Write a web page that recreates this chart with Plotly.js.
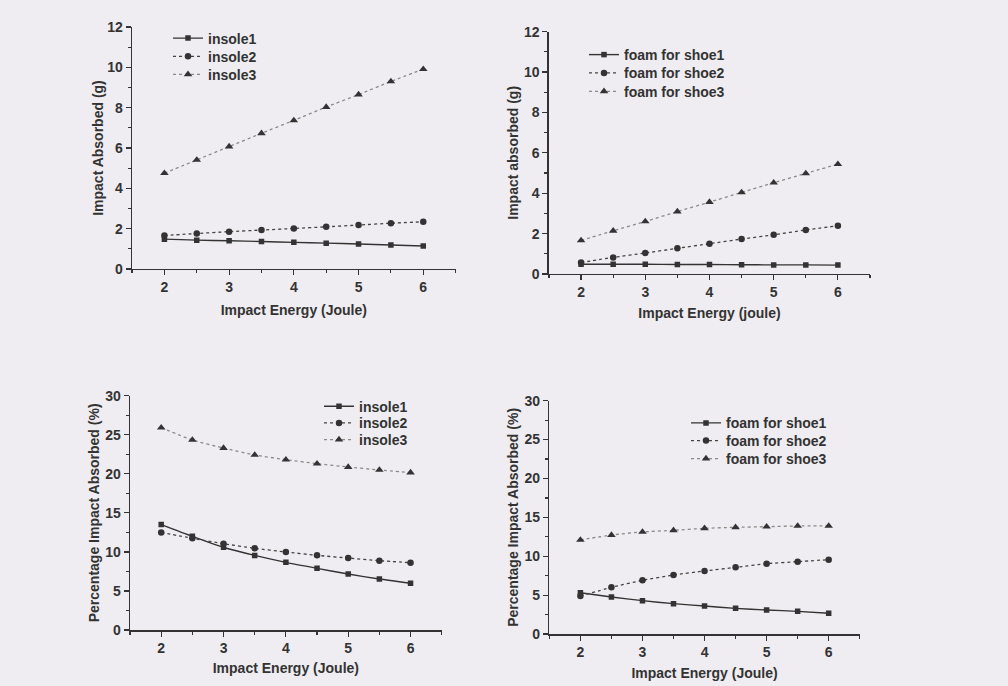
<!DOCTYPE html>
<html>
<head>
<meta charset="utf-8">
<script src="https://cdn.plot.ly/plotly-3.0.1.min.js"></script>
<style>html,body{margin:0;padding:0;background:#efedf1;}#chart{width:1008px;height:686px;}</style>
</head>
<body>
<div id="chart"></div>
<script>
// ---- data ----
const energy = [2, 2.5, 3, 3.5, 4, 4.5, 5, 5.5, 6];

const insoleNames = ["insole1", "insole2", "insole3"];
const foamNames = ["foam for shoe1", "foam for shoe2", "foam for shoe3"];

// Impact absorbed (g)
const insole1Abs = [1.48, 1.43, 1.40, 1.36, 1.32, 1.28, 1.24, 1.19, 1.14];
const insole2Abs = [1.66, 1.76, 1.85, 1.93, 2.01, 2.09, 2.18, 2.27, 2.34];
const insole3Abs = [4.75, 5.41, 6.07, 6.73, 7.37, 8.03, 8.65, 9.30, 9.91];

const foam1Abs = [0.48, 0.48, 0.48, 0.47, 0.47, 0.46, 0.45, 0.45, 0.44];
const foam2Abs = [0.57, 0.82, 1.04, 1.27, 1.50, 1.73, 1.94, 2.18, 2.39];
const foam3Abs = [1.66, 2.14, 2.60, 3.09, 3.56, 4.04, 4.52, 4.98, 5.44];

// Percentage impact absorbed (%)
const insole1Pct = [13.5, 12.0, 10.6, 9.55, 8.66, 7.9, 7.17, 6.53, 5.98];
const insole2Pct = [12.5, 11.74, 11.05, 10.46, 9.99, 9.56, 9.22, 8.88, 8.62];
const insole3Pct = [25.9, 24.33, 23.3, 22.41, 21.81, 21.3, 20.87, 20.49, 20.15];

const foam1Pct = [5.3, 4.76, 4.29, 3.9, 3.6, 3.3, 3.09, 2.91, 2.66];
const foam2Pct = [4.89, 6.0, 6.9, 7.59, 8.1, 8.57, 9.04, 9.3, 9.56];
const foam3Pct = [12.09, 12.73, 13.12, 13.33, 13.59, 13.72, 13.8, 13.89, 13.89];

const xTickVals = [2, 3, 4, 5, 6];

// ---- styles ----
const FONT = "Arial, 'Liberation Sans', sans-serif";
const styles = [
  {line: {color: "#333333", width: 1.4, dash: "solid"}, marker: {symbol: "square", size: 5.5, color: "#333333"}},
  {line: {color: "#444444", width: 1.3, dash: "dot"}, marker: {symbol: "circle", size: 6.5, color: "#333333"}},
  {line: {color: "#8a8a8a", width: 1.3, dash: "dot"}, marker: {symbol: "triangle-up", size: 7.5, color: "#333333"}}
];

let legCount = 0;
const legendLayouts = {};
// one single-entry legend per trace so that row spacing matches the original
function legendFor(xpx, ypx) {
  legCount += 1;
  const id = legCount === 1 ? "legend" : "legend" + legCount;
  legendLayouts[id] = {
    x: xpx / 1008, y: 1 - ypx / 686, xanchor: "left", yanchor: "middle",
    bgcolor: "rgba(0,0,0,0)", borderwidth: 0,
    font: {family: FONT, size: 14, color: "#333", weight: "bold"}, itemwidth: 30
  };
  return id;
}

function series(names, ys, xa, ya, legX, legRows) {
  return ys.map((y, i) => ({
    x: energy, y: y, name: names[i], type: "scatter", mode: "lines+markers",
    xaxis: xa, yaxis: ya, legend: legendFor(legX, legRows[i]),
    line: Object.assign({shape: "spline", smoothing: 0.6}, styles[i].line),
    marker: styles[i].marker
  }));
}

const data = [].concat(
  series(insoleNames, [insole1Abs, insole2Abs, insole3Abs], "x", "y", 168, [38.5, 56.7, 74.7]),
  series(foamNames, [foam1Abs, foam2Abs, foam3Abs], "x2", "y2", 584, [55, 73.3, 91.7]),
  series(insoleNames, [insole1Pct, insole2Pct, insole3Pct], "x3", "y3", 319, [406.7, 423.3, 440]),
  series(foamNames, [foam1Pct, foam2Pct, foam3Pct], "x4", "y4", 686, [423.3, 441, 459])
);

function xax(domain, anchor, title, standoff) {
  return {
    domain: domain, anchor: anchor, range: [1.5, 6.5], tickvals: xTickVals,
    showline: true, linecolor: "#333", linewidth: 1.5, zeroline: false, showgrid: false,
    ticks: "outside", ticklen: 5, tickwidth: 1.2, tickcolor: "#333",
    minor: {dtick: 0.5, tick0: 0, ticks: "outside", ticklen: 3, tickcolor: "#333", showgrid: false},
    tickfont: {family: FONT, size: 14, color: "#333", weight: "bold"},
    title: {text: title, font: {family: FONT, size: 14, color: "#333", weight: "bold"}, standoff: standoff}
  };
}
function yax(domain, anchor, range, dtick, title, standoff) {
  return {
    domain: domain, anchor: anchor, range: range, dtick: dtick, tick0: 0,
    showline: true, linecolor: "#333", linewidth: 1.5, zeroline: false, showgrid: false,
    ticks: "outside", ticklen: 5, tickwidth: 1.2, tickcolor: "#333",
    minor: {dtick: dtick / 2, tick0: 0, ticks: "outside", ticklen: 3, tickcolor: "#333", showgrid: false},
    tickfont: {family: FONT, size: 14, color: "#333", weight: "bold"},
    title: {text: title, font: {family: FONT, size: 14, color: "#333", weight: "bold"}, standoff: standoff}
  };
}

const layout = Object.assign({
  width: 1008, height: 686,
  margin: {l: 0, r: 0, t: 0, b: 0},
  paper_bgcolor: "#efedf1", plot_bgcolor: "rgba(0,0,0,0)",
  showlegend: true,
  xaxis: xax([0.131, 0.452], "y", "Impact Energy (Joule)", 11),
  yaxis: yax([0.6079, 0.9606], "x", [0, 12], 2, "Impact Absorbed (g)", 0),
  xaxis2: xax([0.5446, 0.8631], "y2", "Impact Energy (joule)", 9),
  yaxis2: yax([0.6006, 0.9538], "x2", [0, 12], 2, "Impact absorbed (g)", 2),
  xaxis3: xax([0.129, 0.4382], "y3", "Impact Energy (Joule)", 8),
  yaxis3: yax([0.0816, 0.4232], "x3", [0, 30], 5, "Percentage Impact Absorbed (%)", 2),
  xaxis4: xax([0.545, 0.8529], "y4", "Impact Energy (Joule)", 9),
  yaxis4: yax([0.0758, 0.4159], "x4", [0, 30], 5, "Percentage Impact Absorbed (%)", 2)
}, legendLayouts);

Plotly.newPlot("chart", data, layout, {displayModeBar: false, staticPlot: true});
</script>
</body>
</html>
